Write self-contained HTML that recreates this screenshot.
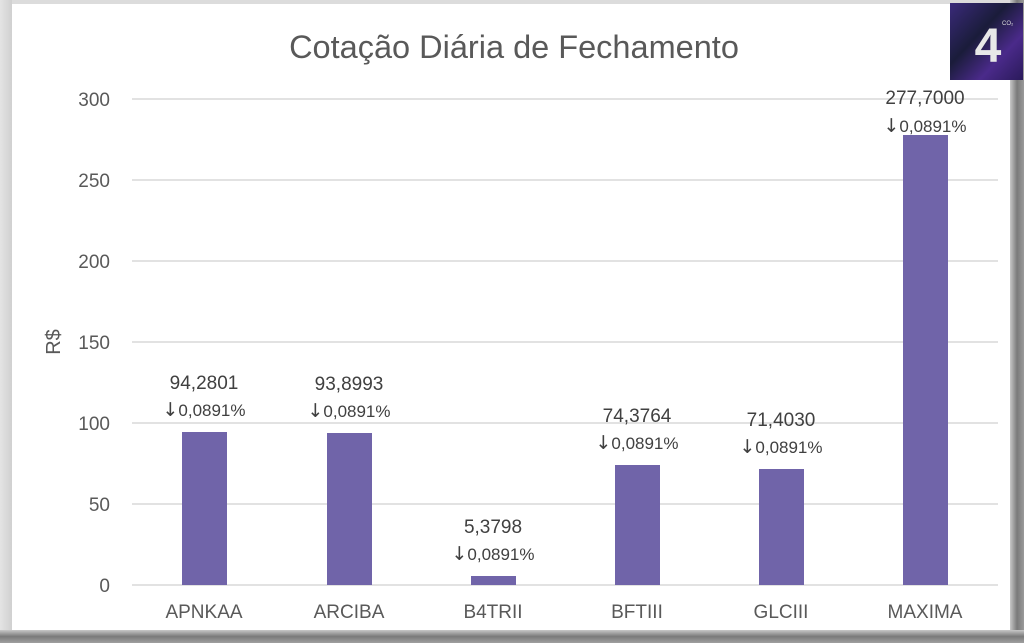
<!DOCTYPE html>
<html><head><meta charset="utf-8"><style>
html,body{margin:0;padding:0;background:#fff;}
svg{display:block;font-family:"Liberation Sans","DejaVu Sans",sans-serif;}
.ar{font-family:"DejaVu Sans",sans-serif;font-size:19px;}
</style></head><body>
<svg width="1024" height="643" viewBox="0 0 1024 643" xmlns="http://www.w3.org/2000/svg">
<defs>
<linearGradient id="lb" x1="0" x2="1"><stop offset="0" stop-color="#e4e4e4"/><stop offset="1" stop-color="#d0d0d0"/></linearGradient>
<linearGradient id="rb" x1="0" x2="1"><stop offset="0" stop-color="#c8c8c8"/><stop offset="0.5" stop-color="#7a7a7a"/><stop offset="1" stop-color="#9a9a9a"/></linearGradient>
<linearGradient id="bb" x1="0" y1="0" x2="0" y2="1"><stop offset="0" stop-color="#c8c8c8"/><stop offset="0.5" stop-color="#7a7a7a"/><stop offset="1" stop-color="#a0a0a0"/></linearGradient>
<linearGradient id="logo" x1="0" y1="0" x2="1" y2="1"><stop offset="0" stop-color="#3a2a7a"/><stop offset="0.4" stop-color="#1a1c3a"/><stop offset="0.7" stop-color="#4a2a8a"/><stop offset="1" stop-color="#2a1a5a"/></linearGradient>
</defs>
<rect width="1024" height="643" fill="#dcdcdc"/>
<rect x="0" y="0" width="12" height="643" fill="url(#lb)"/>
<rect x="1010" y="0" width="14" height="643" fill="url(#rb)"/>
<rect x="0" y="630" width="1024" height="13" fill="url(#bb)"/>
<rect x="12" y="4" width="998" height="626" fill="#fff"/>
<text x="514" y="58" text-anchor="middle" font-size="32.5" fill="#595959">Cotação Diária de Fechamento</text>
<g stroke="#d9d9d9" stroke-width="1.5">
<line x1="132" x2="998" y1="99" y2="99"/><line x1="132" x2="998" y1="180" y2="180"/>
<line x1="132" x2="998" y1="261" y2="261"/><line x1="132" x2="998" y1="342" y2="342"/>
<line x1="132" x2="998" y1="423" y2="423"/><line x1="132" x2="998" y1="504" y2="504"/>
<line x1="132" x2="998" y1="585" y2="585"/>
</g>
<g font-size="19" fill="#595959" text-anchor="end">
<text x="110" y="106">300</text><text x="110" y="187">250</text><text x="110" y="268">200</text>
<text x="110" y="349">150</text><text x="110" y="430">100</text><text x="110" y="511">50</text><text x="110" y="592">0</text>
</g>
<text transform="translate(60,342) rotate(-90)" text-anchor="middle" font-size="20" fill="#595959">R$</text>
<g fill="#7064a9">
<rect x="182" y="432" width="45" height="153"/>
<rect x="327" y="433" width="45" height="152"/>
<rect x="471" y="576" width="45" height="9"/>
<rect x="615" y="465" width="45" height="120"/>
<rect x="759" y="469" width="45" height="116"/>
<rect x="903" y="135" width="45" height="450"/>
</g>
<g font-size="19" fill="#595959" text-anchor="middle">
<text x="204" y="618">APNKAA</text><text x="349" y="618">ARCIBA</text><text x="493" y="618">B4TRII</text>
<text x="637" y="618">BFTIII</text><text x="781" y="618">GLCIII</text><text x="925" y="618">MAXIMA</text>
</g>
<g fill="#404040" text-anchor="middle">
<g font-size="19">
<text x="204" y="389">94,2801</text><text x="349" y="390">93,8993</text><text x="493" y="533">5,3798</text>
<text x="637" y="422">74,3764</text><text x="781" y="426">71,4030</text><text x="925" y="104">277,7000</text>
</g>
<g font-size="17">
<text x="204" y="416"><tspan class="ar">↓</tspan>0,0891%</text>
<text x="349" y="417"><tspan class="ar">↓</tspan>0,0891%</text>
<text x="493" y="560"><tspan class="ar">↓</tspan>0,0891%</text>
<text x="637" y="449"><tspan class="ar">↓</tspan>0,0891%</text>
<text x="781" y="453"><tspan class="ar">↓</tspan>0,0891%</text>
<text x="925" y="132"><tspan class="ar">↓</tspan>0,0891%</text>
</g>
</g>
<rect x="950" y="3" width="73" height="77" fill="url(#logo)"/>
<text x="988" y="62" text-anchor="middle" font-size="48" font-weight="bold" fill="#e8e8e8">4</text>
<text x="1002" y="25" font-size="6" fill="#ddd">CO₂</text>
</svg>
</body></html>
